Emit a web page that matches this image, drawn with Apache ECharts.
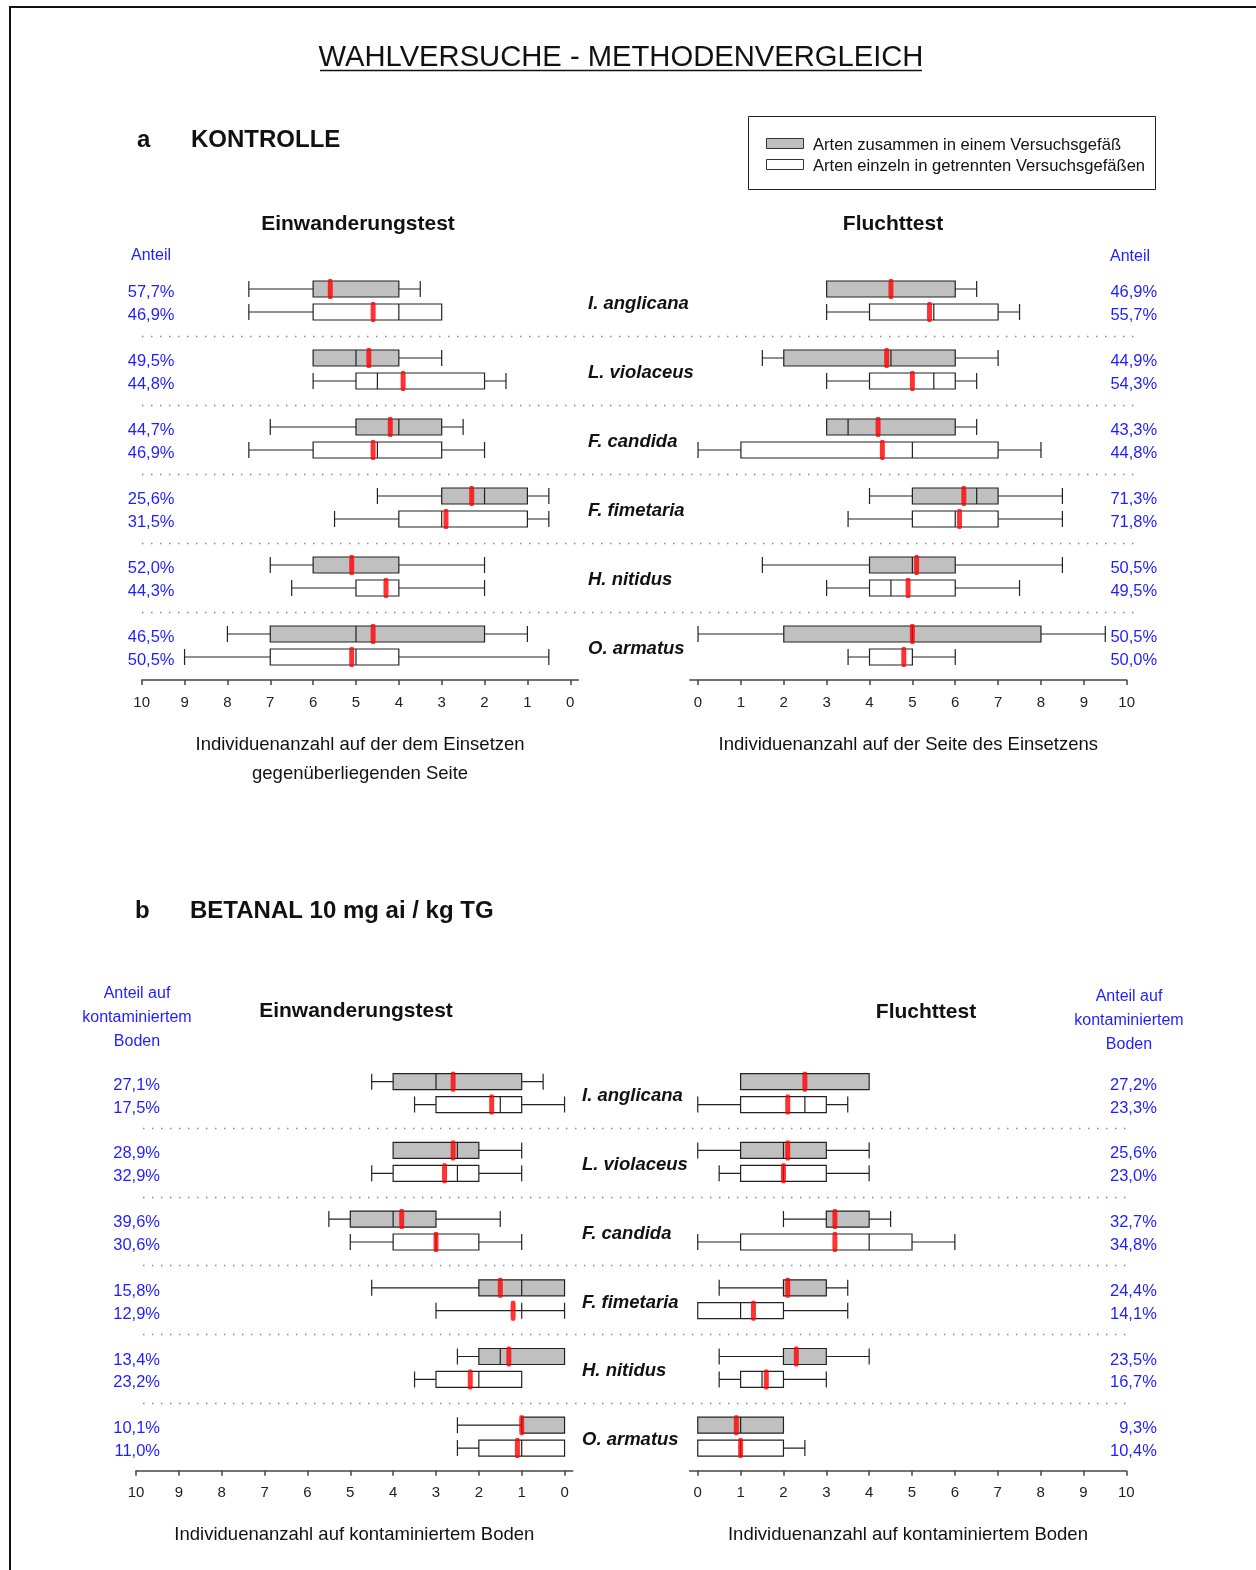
<!DOCTYPE html>
<html><head><meta charset="utf-8">
<script src="https://cdn.jsdelivr.net/npm/echarts@6/dist/echarts.min.js"></script>
<style>html,body{margin:0;padding:0;background:#fff}#c{width:1256px;height:1570px}</style>
</head><body><div id="c"></div>
<script>
const FONT = '"Liberation Sans", Arial, sans-serif';
const BLUE = '#1e1eff';
const species = ['I. anglicana','L. violaceus','F. candida','F. fimetaria','H. nitidus','O. armatus'];
const xTicks = [0,1,2,3,4,5,6,7,8,9,10];

// [min, Q1, median, Q3, max]
// a – KONTROLLE, Einwanderungstest
const kEinGray = [[3.5,4,6,6,7.5],[3,4,5,6,6],[2.5,3,4,5,7],[0.5,1,2,3,4.5],[2,4,4,6,7],[1,2,5,7,8]];
const kEinGrayMean = [5.6,4.7,4.2,2.3,5.1,4.6];
const kEinWhite = [[3,3,4,6,7.5],[1.5,2,4.5,5,6],[2,3,4.5,6,7.5],[0.5,1,3,4,5.5],[2,4,4,5,6.5],[0.5,4,5,7,9]];
const kEinWhiteMean = [4.6,3.9,4.6,2.9,4.3,5.1];
const kEinPctGray = ['57,7%','49,5%','44,7%','25,6%','52,0%','46,5%'];
const kEinPctWhite = ['46,9%','44,8%','46,9%','31,5%','44,3%','50,5%'];

// a – KONTROLLE, Fluchttest
const kFluGray = [[3,3,3,6,6.5],[1.5,2,4.5,6,7],[3,3,3.5,6,6.5],[4,5,6.5,7,8.5],[1.5,4,5,6,8.5],[0,2,5,8,9.5]];
const kFluGrayMean = [4.5,4.4,4.2,6.2,5.1,5.0];
const kFluWhite = [[3,4,5.5,7,7.5],[3,4,5.5,6,6.5],[0,1,5,7,8],[3.5,5,6,7,8.5],[3,4,4.5,6,7.5],[3.5,4,5,5,6]];
const kFluWhiteMean = [5.4,5.0,4.3,6.1,4.9,4.8];
const kFluPctGray = ['46,9%','44,9%','43,3%','71,3%','50,5%','50,5%'];
const kFluPctWhite = ['55,7%','54,3%','44,8%','71,8%','49,5%','50,0%'];

// b – BETANAL, Einwanderungstest
const bEinGray = [[0.5,1,3,4,4.5],[1,2,2.5,4,4],[1.5,3,4,5,5.5],[0,0,1,2,4.5],[0,0,1.5,2,2.5],[0,0,1,1,2.5]];
const bEinGrayMean = [2.6,2.6,3.8,1.5,1.3,1.0];
const bEinWhite = [[0,1,1.5,3,3.5],[1,2,2.5,4,4.5],[1,2,3,4,5],[0,1,1,1,3],[1,1,2,3,3.5],[0,0,1,2,2.5]];
const bEinWhiteMean = [1.7,2.8,3.0,1.2,2.2,1.1];
const bEinPctGray = ['27,1%','28,9%','39,6%','15,8%','13,4%','10,1%'];
const bEinPctWhite = ['17,5%','32,9%','30,6%','12,9%','23,2%','11,0%'];

// b – BETANAL, Fluchttest
const bFluGray = [[1,1,4,4,4],[0,1,2,3,4],[2,3,3,4,4.5],[0.5,2,2,3,3.5],[0.5,2,2,3,4],[0,0,1,2,2]];
const bFluGrayMean = [2.5,2.1,3.2,2.1,2.3,0.9];
const bFluWhite = [[0,1,2.5,3,3.5],[0.5,1,2,3,4],[0,1,4,5,6],[0,0,1,2,3.5],[0.5,1,1.5,2,3],[0,0,1,2,2.5]];
const bFluWhiteMean = [2.1,2.0,3.2,1.3,1.6,1.0];
const bFluPctGray = ['27,2%','25,6%','32,7%','24,4%','23,5%','9,3%'];
const bFluPctWhite = ['23,3%','23,0%','34,8%','14,1%','16,7%','10,4%'];

function slotNames(){ const a=[]; for(let i=0;i<species.length;i++){ a.push('g'+i,'w'+i,'s'+i); } return a; }
function boxData(gray, white){
  const d=[];
  gray.forEach((v,i)=>{
    d.push({value:[3*i].concat(v), itemStyle:{color:'#c0c0c0'}});
    d.push({value:[3*i+1].concat(white[i]), itemStyle:{color:'#ffffff'}});
  });
  return d;
}
function meanData(gm, wm){ const d=[]; gm.forEach((v,i)=>{ d.push([v,3*i]); d.push([wm[i],3*i+1]); }); return d; }
function pctLabels(pg, pw){ const a=[]; pg.forEach((v,i)=>{ a.push(v, pw[i], ''); }); return a; }

function valueX(gridIndex, inverse, offset, name, nameGap){
  return {
    type:'value', gridIndex, min:-0.19, max:10, inverse, offset,
    axisLine:{show:true, lineStyle:{color:'#444', width:1.5}},
    axisTick:{show:true, customValues:xTicks, length:5, lineStyle:{color:'#444', width:1.5}},
    axisLabel:{customValues:xTicks, fontSize:15, color:'#222', margin:15, fontFamily:FONT},
    splitLine:{show:false},
    name, nameLocation:'middle', nameGap,
    nameTextStyle:{fontSize:18.5, lineHeight:29, color:'#111', fontFamily:FONT}
  };
}
function slotY(gridIndex, position, labels, margin, align){
  return {
    type:'category', gridIndex, data:slotNames(), inverse:true, position,
    axisLine:{show:false}, axisTick:{show:false}, splitLine:{show:false},
    axisLabel:{interval:0, margin, align, color:BLUE, fontSize:16.5, fontFamily:FONT,
      verticalAlign:'top', lineHeight:7, formatter:(v,i)=>labels[i]}
  };
}
function speciesY(gridIndex, offset){
  return {
    type:'category', gridIndex, data:species, inverse:true, position:'left', offset,
    axisLine:{show:false}, axisTick:{show:false},
    axisLabel:{interval:0, margin:0, align:'left', fontSize:18.5, fontWeight:'bold', fontStyle:'italic', color:'#111', fontFamily:FONT,
      verticalAlign:'top', lineHeight:5},
    splitLine:{show:true, interval:0, showMinLine:false, showMaxLine:false,
      lineStyle:{color:'#8a8a8a', width:1.4, type:[1.5,7.5]}}
  };
}
function boxSeries(ax, gray, white){
  return {type:'boxplot', xAxisIndex:ax, yAxisIndex:ax, encode:{y:0, x:[1,2,3,4,5]},
    boxWidth:[16,16], silent:true, z:2,
    itemStyle:{borderColor:'#222', borderWidth:1.2},
    data:boxData(gray, white)};
}
function meanSeries(ax, gm, wm){
  return {type:'scatter', xAxisIndex:ax, yAxisIndex:ax, symbol:'roundRect', symbolSize:[5,20],
    silent:true, z:5, itemStyle:{color:'#ff0000'}, data:meanData(gm, wm)};
}

const T = 277.5, TH = 414, B = 1070.25, BH = 412.2;
const grid = [
  {left:141.7, top:T, width:436.7, height:TH},
  {left:689.9, top:T, width:436.8, height:TH},
  {left:142, top:267, width:993, height:TH},
  {left:136, top:B, width:436.7, height:BH},
  {left:689.6, top:B, width:436.7, height:BH},
  {left:143, top:1059.5, width:987, height:BH}
];
const hiddenX = g => ({type:'value', gridIndex:g, min:0, max:1, show:false});

const xAxis = [
  valueX(0, true, -11.5, 'Individuenanzahl auf der dem Einsetzen\ngegenüberliegenden Seite', 50.5),
  valueX(1, false, -11.5, 'Individuenanzahl auf der Seite des Einsetzens', 50.5),
  hiddenX(2),
  valueX(3, true, -11.6, 'Individuenanzahl auf kontaminiertem Boden', 50),
  valueX(4, false, -11.6, 'Individuenanzahl auf kontaminiertem Boden', 50),
  hiddenX(5)
];
const yAxis = [
  slotY(0, 'left', pctLabels(kEinPctGray, kEinPctWhite), -32.8, 'right'),
  slotY(1, 'right', pctLabels(kFluPctGray, kFluPctWhite), 30.5, 'right'),
  speciesY(2, -446),
  slotY(3, 'left', pctLabels(bEinPctGray, bEinPctWhite), -24, 'right'),
  slotY(4, 'right', pctLabels(bFluPctGray, bFluPctWhite), 30.5, 'right'),
  speciesY(5, -439)
];
const series = [
  boxSeries(0, kEinGray, kEinWhite), meanSeries(0, kEinGrayMean, kEinWhiteMean),
  boxSeries(1, kFluGray, kFluWhite), meanSeries(1, kFluGrayMean, kFluWhiteMean),
  boxSeries(3, bEinGray, bEinWhite), meanSeries(3, bEinGrayMean, bEinWhiteMean),
  boxSeries(4, bFluGray, bFluWhite), meanSeries(4, bFluGrayMean, bFluWhiteMean)
];

function txt(text, x, y, size, opts){
  opts = opts || {};
  const font = (opts.italic?'italic ':'') + (opts.bold?'bold ':'') + size + 'px ' + FONT;
  const al = opts.align || 'left';
  return {type:'text', x, y:y+2, silent:true, z:10, style:{text, font, fill:opts.color||'#111',
    align:al, textAlign:al, verticalAlign:'middle', textVerticalAlign:'middle'}};
}
const graphic = [
  {type:'line', silent:true, shape:{x1:9, y1:7, x2:1256, y2:7}, style:{stroke:'#111', lineWidth:2}},
  {type:'line', silent:true, shape:{x1:10, y1:6, x2:10, y2:1570}, style:{stroke:'#111', lineWidth:2}},
  txt('WAHLVERSUCHE - METHODENVERGLEICH', 621, 56, 29.2, {align:'center'}),
  {type:'line', silent:true, shape:{x1:320, y1:70.5, x2:922, y2:70.5}, style:{stroke:'#111', lineWidth:1.5}},
  txt('a', 137, 138, 24, {bold:true}),
  txt('KONTROLLE', 191, 138, 24, {bold:true}),
  {type:'rect', silent:true, shape:{x:748.5, y:116.5, width:407, height:73}, style:{fill:'#fff', stroke:'#222', lineWidth:1}},
  {type:'rect', silent:true, z:10, shape:{x:766.5, y:138.5, width:37, height:10}, style:{fill:'#c0c0c0', stroke:'#333', lineWidth:1}},
  {type:'rect', silent:true, z:10, shape:{x:766.5, y:159.5, width:37, height:10}, style:{fill:'#fff', stroke:'#333', lineWidth:1}},
  txt('Arten zusammen in einem Versuchsgefäß', 813, 143, 16.6),
  txt('Arten einzeln in getrennten Versuchsgefäßen', 813, 164, 16.6),
  txt('Einwanderungstest', 358, 222, 21, {bold:true, align:'center'}),
  txt('Fluchttest', 893, 222, 21, {bold:true, align:'center'}),
  txt('Anteil', 151, 254, 16, {color:BLUE, align:'center'}),
  txt('Anteil', 1130, 255, 16, {color:BLUE, align:'center'}),
  txt('b', 135, 909, 24, {bold:true}),
  txt('BETANAL 10 mg ai / kg TG', 190, 909, 24, {bold:true}),
  txt('Einwanderungstest', 356, 1009, 21, {bold:true, align:'center'}),
  txt('Fluchttest', 926, 1010, 21, {bold:true, align:'center'}),
  txt('Anteil auf', 137, 992, 16, {color:BLUE, align:'center'}),
  txt('kontaminiertem', 137, 1016, 16, {color:BLUE, align:'center'}),
  txt('Boden', 137, 1040, 16, {color:BLUE, align:'center'}),
  txt('Anteil auf', 1129, 995, 16, {color:BLUE, align:'center'}),
  txt('kontaminiertem', 1129, 1019, 16, {color:BLUE, align:'center'}),
  txt('Boden', 1129, 1043, 16, {color:BLUE, align:'center'})
];

const chart = echarts.init(document.getElementById('c'), null, {renderer:'canvas'});
chart.setOption({
  animation:false,
  backgroundColor:'#ffffff',
  textStyle:{fontFamily:FONT},
  grid, xAxis, yAxis, series, graphic
});
</script>
</body></html>
